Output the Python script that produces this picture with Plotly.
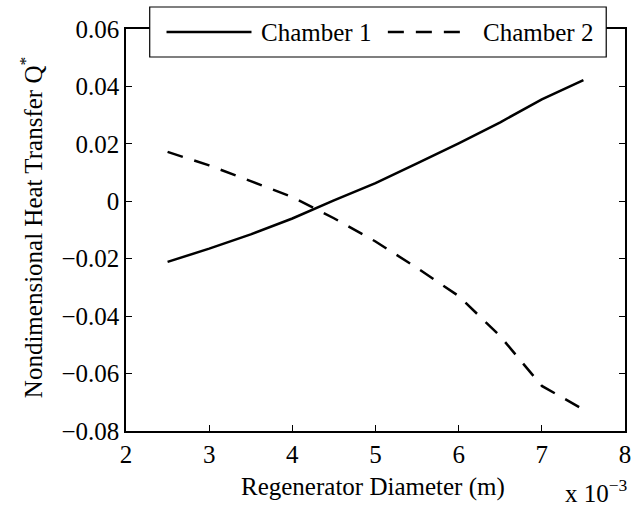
import plotly.graph_objects as go

# Regenerator diameter (m) and nondimensional heat transfer for each chamber
diameter = [0.0025, 0.0030, 0.0035, 0.0040, 0.0045, 0.0050,
            0.0055, 0.0060, 0.0065, 0.0070, 0.0075]
chamber1 = [-0.0211, -0.0165, -0.0115, -0.0060, 0.0003, 0.0063,
            0.0132, 0.0202, 0.0275, 0.0355, 0.0422]
chamber2 = [0.0172, 0.0125, 0.0070, 0.0015, -0.0059, -0.0140,
            -0.0232, -0.0330, -0.0470, -0.0643, -0.0725]

x_ticks = [0.002, 0.003, 0.004, 0.005, 0.006, 0.007, 0.008]
x_ticktext = ["2", "3", "4", "5", "6", "7", "8"]
y_ticks = [-0.08, -0.06, -0.04, -0.02, 0.0, 0.02, 0.04, 0.06]
y_ticktext = ["\u22120.08", "\u22120.06", "\u22120.04", "\u22120.02",
              "0", "0.02", "0.04", "0.06"]

W, H = 637, 512
L, R, T, B = 126, 6, 29, 81
PW, PH = W - L - R, H - T - B
FONT = "Liberation Serif, Times New Roman, serif"
FS = 25


def px_x(p):
    return (p - L) / PW


def px_y(p):
    return (H - B - p) / PH


fig = go.Figure()
fig.add_trace(go.Scatter(x=diameter, y=chamber1, mode="lines", name="Chamber 1",
                         line=dict(color="black", width=2.5), showlegend=False))
fig.add_trace(go.Scatter(x=diameter, y=chamber2, mode="lines", name="Chamber 2",
                         line=dict(color="black", width=2.5, dash="16px,12px"),
                         showlegend=False))

axis_common = dict(showgrid=False, zeroline=False, showline=True, linecolor="black",
                   linewidth=1.5, mirror="allticks", ticks="inside", ticklen=6,
                   tickwidth=1, tickcolor="black",
                   tickfont=dict(family=FONT, size=FS, color="black"))

fig.update_xaxes(range=[0.002, 0.008], tickvals=x_ticks, ticktext=x_ticktext, **axis_common)
fig.update_yaxes(range=[-0.08, 0.06], tickvals=y_ticks, ticktext=y_ticktext, **axis_common)

# Legend box drawn over the top axis line
shapes = [
    dict(type="rect", xref="paper", yref="paper", layer="above",
         x0=px_x(150), x1=px_x(612), y0=px_y(57), y1=px_y(7),
         fillcolor="white", line=dict(color="black", width=1.2)),
    dict(type="line", xref="paper", yref="paper", layer="above",
         x0=px_x(167), x1=px_x(253), y0=px_y(32), y1=px_y(32),
         line=dict(color="black", width=2.5)),
    dict(type="line", xref="paper", yref="paper", layer="above",
         x0=px_x(391), x1=px_x(475), y0=px_y(32), y1=px_y(32),
         line=dict(color="black", width=2.5, dash="16px,12px")),
]

annotations = [
    dict(text="Chamber 1", xref="paper", yref="paper", x=px_x(261), y=px_y(32),
         xanchor="left", yanchor="middle", showarrow=False,
         font=dict(family=FONT, size=FS, color="black")),
    dict(text="Chamber 2", xref="paper", yref="paper", x=px_x(485), y=px_y(32),
         xanchor="left", yanchor="middle", showarrow=False,
         font=dict(family=FONT, size=FS, color="black")),
    dict(text="Regenerator Diameter (m)", xref="paper", yref="paper",
         x=px_x(376), y=px_y(487), xanchor="center", yanchor="middle",
         showarrow=False, font=dict(family=FONT, size=FS, color="black")),
    dict(text="Nondimensional Heat Transfer Q<sup>*</sup>", xref="paper", yref="paper",
         x=px_x(30), y=px_y(228), xanchor="center", yanchor="middle", textangle=-90,
         showarrow=False, font=dict(family=FONT, size=FS, color="black")),
    dict(text="x 10<sup>\u22123</sup>", xref="paper", yref="paper",
         x=px_x(636), y=px_y(509), xanchor="right", yanchor="bottom",
         showarrow=False, font=dict(family=FONT, size=FS, color="black")),
]

fig.update_layout(
    width=W, height=H,
    margin=dict(l=L, r=R, t=T, b=B),
    paper_bgcolor="white", plot_bgcolor="white",
    shapes=shapes, annotations=annotations,
    font=dict(family=FONT, size=FS, color="black"),
)

fig.write_html("out.html")
